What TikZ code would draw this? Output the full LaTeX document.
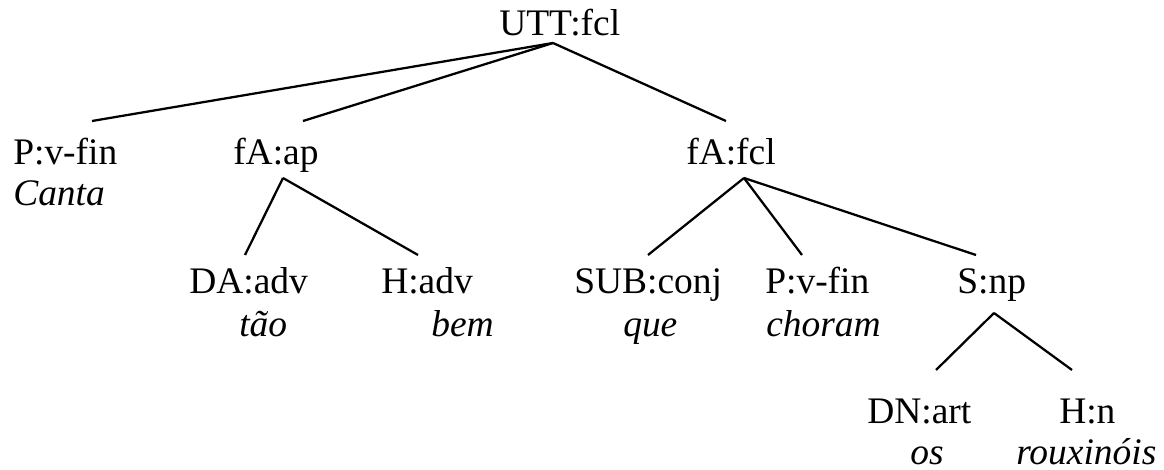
\documentclass[tikz,border=0pt]{standalone}
\usepackage{fontspec}
\setmainfont{Liberation Serif}

\begin{document}
\begin{tikzpicture}[
  x=0.75pt,
  y=-0.75pt,
  every node/.style={font=\fontsize{28.1pt}{32pt}\selectfont, inner sep=0pt, anchor=base west},
  lbl/.style={},
  word/.style={font=\fontsize{28.1pt}{32pt}\selectfont\itshape},
  branch/.style={draw=black, line width=1.7pt}
]
  \useasboundingbox (0,0) rectangle (1164,470);

  % categories
  \node[lbl] (utt)   at (499,36)  {UTT:fcl};
  \node[lbl] (pv1)   at (13,165)  {P:v-fin};
  \node[lbl] (fap)   at (233,165) {fA:ap};
  \node[lbl] (ffcl)  at (686,165) {fA:fcl};
  \node[lbl] (daadv) at (189,294) {DA:adv};
  \node[lbl] (hadv)  at (381,294) {H:adv};
  \node[lbl] (sub)   at (574,294) {SUB:conj};
  \node[lbl] (pv2)   at (765,294) {P:v-fin};
  \node[lbl] (snp)   at (957,294) {S:np};
  \node[lbl] (dn)    at (867,423) {DN:art};
  \node[lbl] (hn)    at (1059,423) {H:n};

  % words
  \node[word] (w-canta) at (13,206)   {Canta};
  \node[word] (w-tao)   at (239,337)  {tão};
  \node[word] (w-bem)   at (431,337)  {bem};
  \node[word] (w-que)   at (623,337)  {que};
  \node[word] (w-choram) at (766,337) {choram};
  \node[word] (w-os)    at (910,464)  {os};
  \node[word] (w-roux)  at (1016,464) {rouxinóis};

  % branch points
  \coordinate (utt-d)   at ([shift={(54,7)}]utt.base west);
  \coordinate (pv1-u)   at ([shift={(79,-44)}]pv1.base west);
  \coordinate (fap-u)   at ([shift={(70,-44)}]fap.base west);
  \coordinate (fap-d)   at ([shift={(50,13)}]fap.base west);
  \coordinate (ffcl-u)  at ([shift={(40,-44)}]ffcl.base west);
  \coordinate (ffcl-d)  at ([shift={(58,13)}]ffcl.base west);
  \coordinate (daadv-u) at ([shift={(56,-39)}]daadv.base west);
  \coordinate (hadv-u)  at ([shift={(37,-39)}]hadv.base west);
  \coordinate (sub-u)   at ([shift={(74,-39)}]sub.base west);
  \coordinate (pv2-u)   at ([shift={(37,-39)}]pv2.base west);
  \coordinate (snp-u)   at ([shift={(19,-39)}]snp.base west);
  \coordinate (snp-d)   at ([shift={(37,19)}]snp.base west);
  \coordinate (dn-u)    at ([shift={(69,-53)}]dn.base west);
  \coordinate (hn-u)    at ([shift={(13,-53)}]hn.base west);

  % branches
  \foreach \c in {pv1,fap,ffcl} {
    \draw[branch] (utt-d) -- (\c-u);
  }
  \foreach \c in {daadv,hadv} {
    \draw[branch] (fap-d) -- (\c-u);
  }
  \foreach \c in {sub,pv2,snp} {
    \draw[branch] (ffcl-d) -- (\c-u);
  }
  \foreach \c in {dn,hn} {
    \draw[branch] (snp-d) -- (\c-u);
  }
\end{tikzpicture}
\end{document}
